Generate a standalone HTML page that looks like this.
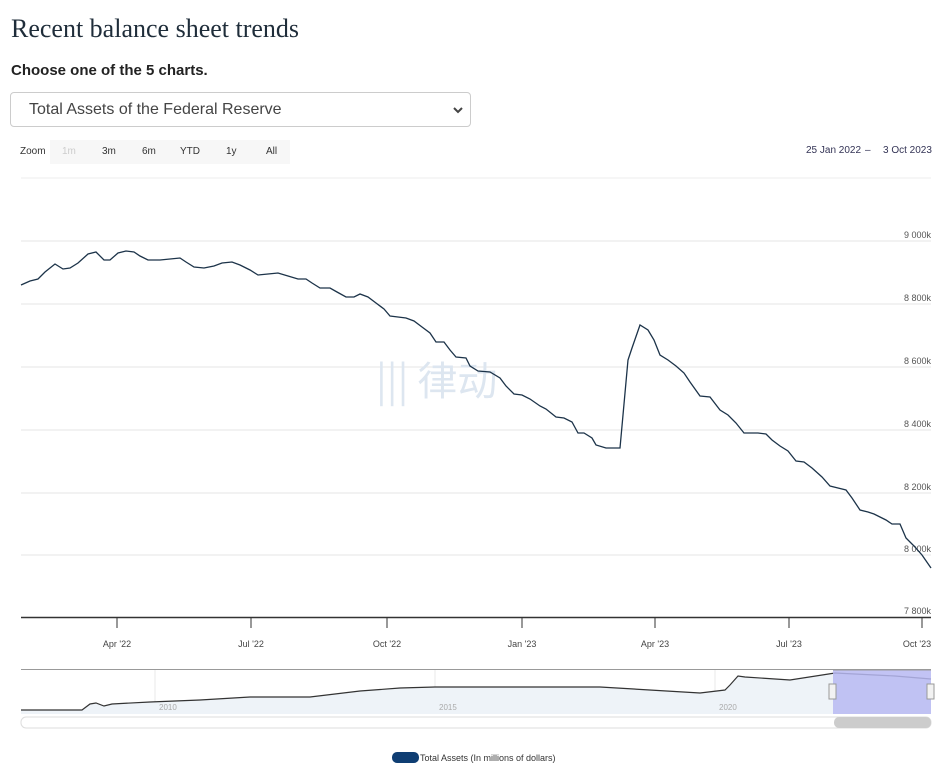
<!DOCTYPE html>
<html><head><meta charset="utf-8"><style>
body{margin:0;width:944px;height:776px;background:#fff;overflow:hidden;font-family:"Liberation Sans",sans-serif;position:relative}
.t{position:absolute;left:11px;top:14px;font-family:"Liberation Serif",serif;font-size:26px;color:#1f2d3a}
.s{position:absolute;left:11px;top:62px;font-size:15px;font-weight:bold;color:#222}
.sel{position:absolute;left:10px;top:92px;width:461px;height:35px;border:1px solid #ccc;border-radius:4px;box-sizing:border-box}
.sel span{position:absolute;left:18px;top:8px;font-size:16px;color:#444}
</style></head><body>
<div class="t">Recent balance sheet trends</div>
<div class="s">Choose one of the 5 charts.</div>
<div class="sel"><span>Total Assets of the Federal Reserve</span>
<svg style="position:absolute;right:6px;top:12px" width="12" height="10"><path d="M2 3l4 4 4-4" stroke="#444" stroke-width="2" fill="none"/></svg></div>
<svg width="944" height="776" style="position:absolute;left:0;top:0" font-family="Liberation Sans, sans-serif">
<g font-size="10" fill="#333">
<text x="20" y="154">Zoom</text>
<rect x="50" y="140" width="240" height="24" fill="#f7f7f7"/>
<text x="62" y="154" fill="#ccc">1m</text><text x="102" y="154">3m</text><text x="142" y="154">6m</text><text x="180" y="154">YTD</text><text x="226" y="154">1y</text><text x="266" y="154">All</text>
<text x="806" y="153" fill="#335">25 Jan 2022</text><text x="865" y="153" fill="#335">–</text><text x="883" y="153" fill="#335">3 Oct 2023</text>
</g>
<line x1="21" y1="178" x2="931" y2="178" stroke="#eee"/>
<g stroke="#e6e6e6">
<line x1="21" y1="241" x2="931" y2="241"/><line x1="21" y1="304" x2="931" y2="304"/><line x1="21" y1="367" x2="931" y2="367"/><line x1="21" y1="430" x2="931" y2="430"/><line x1="21" y1="493" x2="931" y2="493"/><line x1="21" y1="555" x2="931" y2="555"/>
</g>
<g font-size="9" fill="#555" text-anchor="end">
<text x="931" y="238">9 000k</text><text x="931" y="301">8 800k</text><text x="931" y="364">8 600k</text><text x="931" y="427">8 400k</text><text x="931" y="490">8 200k</text><text x="931" y="552">8 000k</text><text x="931" y="614">7 800k</text>
</g>
<text x="376" y="395" font-size="40" fill="#dde6f0" font-family="Noto Sans CJK SC, sans-serif">||| 律动</text>
<line x1="21" y1="617.5" x2="931" y2="617.5" stroke="#333" stroke-width="1.5"/>
<g stroke="#333"><line x1="117" y1="618" x2="117" y2="628"/><line x1="251" y1="618" x2="251" y2="628"/><line x1="387" y1="618" x2="387" y2="628"/><line x1="522" y1="618" x2="522" y2="628"/><line x1="655" y1="618" x2="655" y2="628"/><line x1="789" y1="618" x2="789" y2="628"/><line x1="922" y1="618" x2="922" y2="628"/></g>
<g font-size="9" fill="#444" text-anchor="middle">
<text x="117" y="647">Apr '22</text><text x="251" y="647">Jul '22</text><text x="387" y="647">Oct '22</text><text x="522" y="647">Jan '23</text><text x="655" y="647">Apr '23</text><text x="789" y="647">Jul '23</text><text x="917" y="647">Oct '23</text>
</g>
<polyline fill="none" stroke="#1c3349" stroke-width="1.3" points="21,285 30,281 38,279 45,272 55,264 63,269 70,268 78,263 88,254 96,252 104,260 110,260 118,253 126,251 134,252 140,256 148,260 160,260 180,258 186,262 194,267 204,268 214,266 222,263 232,262 240,265 250,270 258,275 268,274 278,273 288,276 298,279 306,279 312,283 320,288 330,288 337,292 346,297 354,297 360,294 368,297 376,303 384,309 390,316 398,317 406,318 414,321 422,327 430,333 436,342 444,342 450,350 456,357 466,358 470,366 478,371 490,372 500,378 506,386 514,394 522,395 530,399 540,406 546,409 556,417 564,418 572,422 578,433 584,433 592,438 596,445 606,448 620,448 628,360 632,348 640,325 648,330 654,340 660,355 668,360 676,366 684,373 690,382 700,396 710,397 720,410 728,415 736,423 744,433 758,433 766,434 772,440 780,446 788,451 796,461 804,462 812,468 822,477 830,486 838,488 846,490 852,498 860,510 868,512 874,514 886,520 892,524 900,524 906,538 914,546 922,555 931,568"/>
<!-- navigator -->
<rect x="21" y="669" width="910" height="45" fill="#fff"/>
<line x1="21" y1="669.5" x2="931" y2="669.5" stroke="#999"/>
<g stroke="#e8e8e8"><line x1="155" y1="670" x2="155" y2="714"/><line x1="435" y1="670" x2="435" y2="714"/><line x1="715" y1="670" x2="715" y2="714"/></g>
<path d="M21,710 L82,710 L90,704 L96,703 L104,706 L112,704 L150,702 L200,700 L250,697 L310,697 L360,691 L400,688 L435,687 L600,687 L700,693 L725,690 L730,685 L738,676 L745,677 L790,680 L835,673 L895,676 L931,679 L931,714 L21,714Z" fill="#eef3f8"/>
<polyline fill="none" stroke="#333" stroke-width="1.2" points="21,710 82,710 90,704 96,703 104,706 112,704 150,702 200,700 250,697 310,697 360,691 400,688 435,687 600,687 700,693 725,690 730,685 738,676 745,677 790,680 835,673 895,676 931,679"/>
<g font-size="8" fill="#aaa"><text x="159" y="710">2010</text><text x="439" y="710">2015</text><text x="719" y="710">2020</text></g>
<rect x="833" y="670" width="98" height="44" fill="#b7b8f2" fill-opacity="0.85"/>
<line x1="833" y1="670" x2="931" y2="670" stroke="#999"/>
<rect x="829" y="684" width="7" height="15" fill="#f2f2f2" stroke="#999"/>
<rect x="927" y="684" width="7" height="15" fill="#f2f2f2" stroke="#999"/>
<rect x="21" y="717" width="910" height="11" rx="5" fill="#fff" stroke="#ddd"/>
<rect x="834" y="717" width="97" height="11" rx="5" fill="#ccc"/>
<rect x="392" y="752" width="27" height="11" rx="5" fill="#0f3e73"/>
<text x="420" y="761" font-size="9" fill="#333">Total Assets (In millions of dollars)</text>
</svg>
</body></html>
